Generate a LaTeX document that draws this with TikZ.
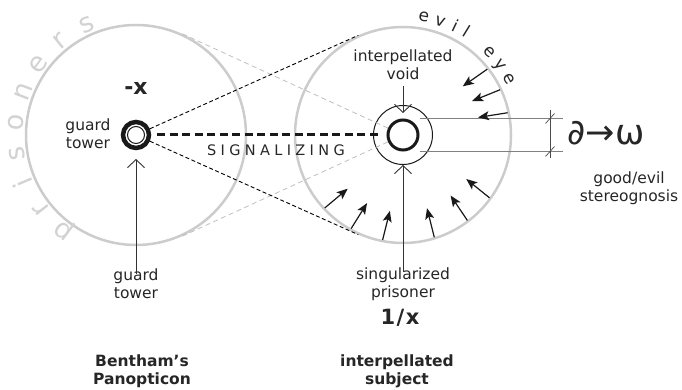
\documentclass[tikz,border=0pt]{standalone}
\usepackage{fontspec}
\setmainfont{DejaVu Sans}
\usetikzlibrary{calc}
\usetikzlibrary{arrows.meta}
\tikzset{field/.style={circle,draw=gray!40,line width=2.5pt,inner sep=0pt},
         hole/.style={circle,draw=black!90,inner sep=0pt},
  lab/.style={align=center,text=black!85,font=\fontsize{15.5}{18}\selectfont,inner sep=1pt},
  blab/.style={lab,font=\fontsize{15.5}{18}\selectfont\bfseries},
  bigx/.style={text=black!85,inner sep=1pt},
  signal/.style={line width=3pt,black!90,dash pattern=on 8pt off 4.5pt},
  sight/.style={line width=0.9pt,dash pattern=on 4pt off 2.5pt},
  ghost/.style={line width=0.8pt,gray!50,dash pattern=on 5pt off 3.5pt},
  pointer/.style={line width=0.9pt,black!80,-{Straight Barb[length=8pt,width=17pt]}},
  gaze/.style={line width=1.2pt,black!90,-{Stealth[length=11pt,width=9pt,inset=2.5pt]}},
  dim/.style={line width=0.7pt,gray},
  prl/.style={text=gray!35,font=\fontsize{27}{30}\selectfont,anchor=base,inner sep=0pt},
  evl/.style={text=black!85,font=\fontsize{17}{20}\selectfont,anchor=base,inner sep=0pt}
         }

\begin{document}
\begin{tikzpicture}[x=1pt,y=1pt]
  \useasboundingbox (0,0) rectangle (682,390);

  % the two fields
  \node[field,minimum size=220pt] (panop) at (136,255) {};
  \node[field,minimum size=216pt] (subj) at (403,255) {};

  \node[hole,line width=4.5pt,minimum size=26pt] (tower) at (136,255) {};
  \node[hole,line width=1pt,minimum size=17pt] (towerin) at (tower) {};
  \node[hole,line width=1pt,minimum size=59pt] (cell) at (403,255) {};
  \node[hole,line width=3pt,minimum size=30pt] (void) at (cell) {};

  \coordinate (t1) at (tangent cs:node=subj,point={(tower)},solution=1);
  \coordinate (t2) at (tangent cs:node=subj,point={(tower)},solution=2);
  \coordinate (g1) at (tangent cs:node=panop,point={(void)},solution=1);
  \coordinate (g2) at (tangent cs:node=panop,point={(void)},solution=2);

  \draw[ghost] (g1) -- (void);
  \draw[ghost] (g2) -- (void);
  \draw[sight] (tower) -- (t1);
  \draw[sight] (tower) -- (t2);
  \draw[signal] ([xshift=6pt]tower.east) -- ([xshift=-7pt]void.west);

  % labels
  \node[lab] (towerside) at (88,256) {guard\\tower};
  \node[bigx,font=\fontsize{22}{24}\selectfont\bfseries] (minusx) at (136,302) {-x};
  \node[lab] (voidlab) at (403,325.5) {interpellated\\void};
  \node[lab] (towerlab) at (136,106) {guard\\tower};
  \node[lab] (prislab) at (403,106) {singularized\\prisoner};
  \node[bigx,font=\fontsize{21}{24}\selectfont\bfseries] (inv) at (400,72) {1\kern1.5pt/\kern1.5pt x};
  \node[blab] (panlab) at (142,19) {Bentham’s\\Panopticon};
  \node[blab] (subjlab) at (397,19) {interpellated\\subject};
  \node[lab] (stereo) at (629,201.5) {good/evil\\stereognosis};
  \node[bigx,font=\fontsize{35}{38}\selectfont] (formula) at (606,257) {∂→ω};
  \node[lab,font=\fontsize{14.5}{18}\selectfont\addfontfeature{LetterSpace=30}] (signallab) at (276,240) {SIGNALIZING};

  \draw[pointer,shorten <=-6pt,shorten >=8.75pt] (towerlab) -- (tower);
  \draw[pointer,shorten <=-6pt] (prislab) -- (cell);
  \draw[pointer,shorten <=5.5pt,shorten >=5.5pt] (voidlab) -- (void);

  % stereognosis width
  \draw[dim] (void.north -| void.east) -- ++(143,0);
  \draw[dim] (void.south -| void.east) -- ++(143,0);
  \draw[dim,black!70] (550,280) -- (550,232);
  \foreach \y in {271.5,238.5}
    \draw[dim,black!70] (545.5,\y-5) -- (554.5,\y+5);

  \begin{scope}[shift={(subj)}]
    \foreach \a in {38,25,12,223,241,259,287,307,324}
      \draw[gaze] (\a:107) -- ++(\a+177:30);
    \foreach \ch/\a [count=\k] in {e/80,v/72,i/64.5,l/58.5,e/44,y/36,e/28}
      \node[evl,rotate=\a-90] (ev\k) at (\a:115) {\ch};
  \end{scope}

  \begin{scope}[shift={(panop)}]
    \foreach \ch/\a [count=\k] in {p/233,r/218,i/203,s/189,o/174,n/159,e/144,r/129,s/114}
      \node[prl,rotate=\a-90] (pr\k) at (\a:113) {\ch};
  \end{scope}
\end{tikzpicture}
\end{document}
